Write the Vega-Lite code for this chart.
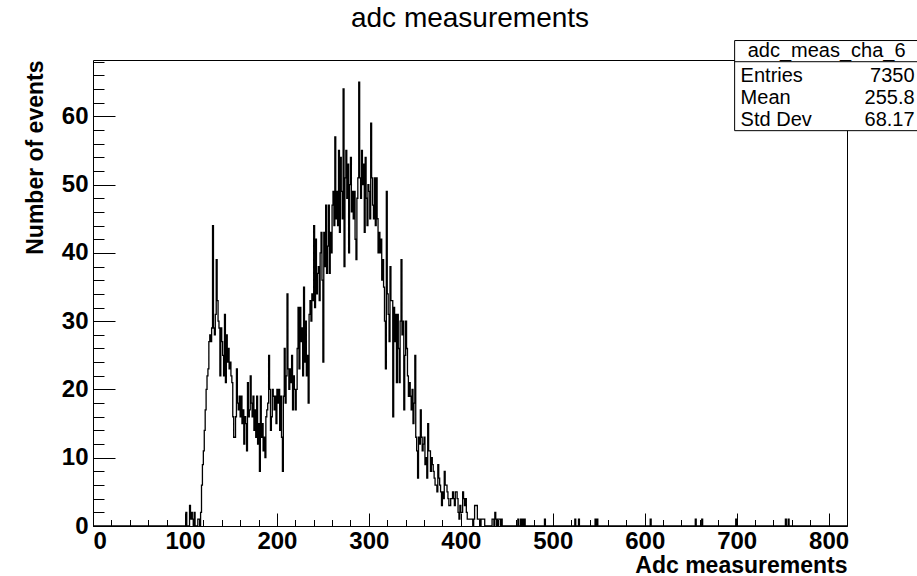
{
  "$schema": "https://vega.github.io/schema/vega-lite/v6.json",
  "width": 754,
  "height": 466,
  "autosize": {"type": "none"},
  "padding": {"left": 93, "top": 60, "right": 70, "bottom": 50},
  "background": "white",
  "view": {"stroke": "black", "strokeWidth": 1, "fill": "white"},
  "title": {"text": "adc measurements", "font": "Liberation Sans", "fontSize": 28, "fontWeight": "normal", "color": "black", "anchor": "middle", "baseline": "bottom", "offset": 5, "dy": 26},
  "config": {"axis": {"grid": false, "labelFont": "Liberation Sans", "titleFont": "Liberation Sans", "labelColor": "black", "titleColor": "black", "tickColor": "black", "domain": false}},
  "datasets": {
    "hist": [
      {"x":0,"n":0},{"x":101,"n":2},{"x":102,"n":0},{"x":105,"n":3},{"x":106,"n":1},{"x":107,"n":2},{"x":108,"n":1},{"x":109,"n":0},{"x":110,"n":2},{"x":111,"n":0},{"x":114,"n":1},{"x":115,"n":1},{"x":116,"n":0},{"x":117,"n":2},
      {"x":118,"n":6},{"x":119,"n":9},{"x":120,"n":11},{"x":121,"n":14},{"x":122,"n":17},{"x":123,"n":20},{"x":124,"n":22},{"x":125,"n":23},{"x":126,"n":27},{"x":127,"n":28},{"x":128,"n":27},{"x":129,"n":29},{"x":130,"n":44},{"x":131,"n":29},{"x":132,"n":28},{"x":133,"n":31},{"x":134,"n":39},{"x":135,"n":33},{"x":136,"n":30},{"x":137,"n":29},{"x":138,"n":22},{"x":139,"n":29},{"x":140,"n":27},{"x":141,"n":25},{"x":142,"n":22},{"x":143,"n":31},{"x":144,"n":21},{"x":145,"n":28},{"x":146,"n":24},{"x":147,"n":26},{"x":148,"n":23},{"x":149,"n":24},
      {"x":150,"n":22},{"x":151,"n":21},{"x":152,"n":16},{"x":153,"n":13},{"x":154,"n":13},{"x":155,"n":16},{"x":156,"n":23},{"x":157,"n":18},{"x":158,"n":17},{"x":159,"n":19},{"x":160,"n":16},{"x":161,"n":19},{"x":162,"n":15},{"x":163,"n":17},{"x":164,"n":12},{"x":165,"n":16},{"x":166,"n":15},{"x":167,"n":11},{"x":168,"n":21},{"x":169,"n":16},{"x":170,"n":17},{"x":171,"n":22},{"x":172,"n":18},{"x":173,"n":16},{"x":174,"n":19},{"x":175,"n":14},{"x":176,"n":17},{"x":177,"n":13},{"x":178,"n":19},{"x":179,"n":12},{"x":180,"n":15},{"x":181,"n":8},{"x":182,"n":19},{"x":183,"n":13},{"x":184,"n":15},{"x":185,"n":11},{"x":186,"n":13},{"x":187,"n":10},{"x":188,"n":16},{"x":189,"n":17},{"x":190,"n":18},{"x":191,"n":25},{"x":192,"n":20},{"x":193,"n":14},{"x":194,"n":16},{"x":195,"n":20},{"x":196,"n":19},{"x":197,"n":17},{"x":198,"n":19},{"x":199,"n":15},
      {"x":200,"n":20},{"x":201,"n":18},{"x":202,"n":20},{"x":203,"n":14},{"x":204,"n":19},{"x":205,"n":13},{"x":206,"n":8},{"x":207,"n":19},{"x":208,"n":26},{"x":209,"n":18},{"x":210,"n":22},{"x":211,"n":34},{"x":212,"n":23},{"x":213,"n":20},{"x":214,"n":23},{"x":215,"n":21},{"x":216,"n":25},{"x":217,"n":17},{"x":218,"n":22},{"x":219,"n":20},{"x":220,"n":17},{"x":221,"n":20},{"x":222,"n":26},{"x":223,"n":32},{"x":224,"n":23},{"x":225,"n":32},{"x":226,"n":27},{"x":227,"n":29},{"x":228,"n":22},{"x":229,"n":35},{"x":230,"n":24},{"x":231,"n":30},{"x":232,"n":22},{"x":233,"n":25},{"x":234,"n":18},{"x":235,"n":31},{"x":236,"n":33},{"x":237,"n":30},{"x":238,"n":34},{"x":239,"n":33},{"x":240,"n":44},{"x":241,"n":32},{"x":242,"n":42},{"x":243,"n":34},{"x":244,"n":37},{"x":245,"n":38},{"x":246,"n":33},{"x":247,"n":40},{"x":248,"n":43},{"x":249,"n":36},
      {"x":250,"n":24},{"x":251,"n":43},{"x":252,"n":38},{"x":253,"n":47},{"x":254,"n":37},{"x":255,"n":41},{"x":256,"n":47},{"x":257,"n":37},{"x":258,"n":43},{"x":259,"n":40},{"x":260,"n":47},{"x":261,"n":49},{"x":262,"n":44},{"x":263,"n":57},{"x":264,"n":45},{"x":265,"n":49},{"x":266,"n":44},{"x":267,"n":55},{"x":268,"n":43},{"x":269,"n":54},{"x":270,"n":49},{"x":271,"n":45},{"x":272,"n":64},{"x":273,"n":38},{"x":274,"n":51},{"x":275,"n":55},{"x":276,"n":48},{"x":277,"n":53},{"x":278,"n":40},{"x":279,"n":50},{"x":280,"n":54},{"x":281,"n":46},{"x":282,"n":49},{"x":283,"n":45},{"x":284,"n":49},{"x":285,"n":42},{"x":286,"n":39},{"x":287,"n":48},{"x":288,"n":51},{"x":289,"n":65},{"x":290,"n":51},{"x":291,"n":48},{"x":292,"n":55},{"x":293,"n":50},{"x":294,"n":53},{"x":295,"n":43},{"x":296,"n":54},{"x":297,"n":48},{"x":298,"n":44},{"x":299,"n":50},
      {"x":300,"n":49},{"x":301,"n":45},{"x":302,"n":59},{"x":303,"n":51},{"x":304,"n":47},{"x":305,"n":45},{"x":306,"n":51},{"x":307,"n":44},{"x":308,"n":51},{"x":309,"n":45},{"x":310,"n":40},{"x":311,"n":43},{"x":312,"n":40},{"x":313,"n":42},{"x":314,"n":36},{"x":315,"n":39},{"x":316,"n":35},{"x":317,"n":30},{"x":318,"n":23},{"x":319,"n":49},{"x":320,"n":34},{"x":321,"n":31},{"x":322,"n":27},{"x":323,"n":38},{"x":324,"n":33},{"x":325,"n":33},{"x":326,"n":16},{"x":327,"n":32},{"x":328,"n":27},{"x":329,"n":31},{"x":330,"n":21},{"x":331,"n":31},{"x":332,"n":26},{"x":333,"n":21},{"x":334,"n":30},{"x":335,"n":39},{"x":336,"n":28},{"x":337,"n":30},{"x":338,"n":17},{"x":339,"n":25},{"x":340,"n":30},{"x":341,"n":26},{"x":342,"n":22},{"x":343,"n":19},{"x":344,"n":21},{"x":345,"n":19},{"x":346,"n":17},{"x":347,"n":20},{"x":348,"n":15},{"x":349,"n":18},
      {"x":350,"n":25},{"x":351,"n":13},{"x":352,"n":11},{"x":353,"n":7},{"x":354,"n":13},{"x":355,"n":12},{"x":356,"n":17},{"x":357,"n":13},{"x":358,"n":11},{"x":359,"n":12},{"x":360,"n":13},{"x":361,"n":9},{"x":362,"n":10},{"x":363,"n":7},{"x":364,"n":15},{"x":365,"n":11},{"x":366,"n":11},{"x":367,"n":8},{"x":368,"n":10},{"x":369,"n":9},{"x":370,"n":8},{"x":371,"n":7},{"x":372,"n":6},{"x":373,"n":6},{"x":374,"n":5},{"x":375,"n":9},{"x":376,"n":7},{"x":377,"n":6},{"x":378,"n":5},{"x":379,"n":3},{"x":380,"n":5},{"x":381,"n":4},{"x":382,"n":8},{"x":383,"n":6},{"x":384,"n":6},{"x":385,"n":5},{"x":386,"n":4},{"x":387,"n":3},{"x":388,"n":3},{"x":389,"n":4},{"x":390,"n":4},{"x":391,"n":5},{"x":392,"n":4},{"x":393,"n":3},{"x":394,"n":5},{"x":395,"n":5},{"x":396,"n":4},{"x":397,"n":2},{"x":398,"n":1},{"x":399,"n":3},
      {"x":400,"n":2},{"x":401,"n":2},{"x":402,"n":5},{"x":403,"n":4},{"x":404,"n":3},{"x":405,"n":4},{"x":406,"n":2},{"x":407,"n":1},{"x":408,"n":1},{"x":409,"n":1},{"x":410,"n":1},{"x":411,"n":1},{"x":412,"n":1},{"x":413,"n":0},{"x":414,"n":1},{"x":415,"n":3},{"x":416,"n":3},{"x":417,"n":3},{"x":418,"n":1},{"x":419,"n":1},{"x":420,"n":1},{"x":421,"n":0},{"x":422,"n":1},{"x":423,"n":1},{"x":424,"n":1},{"x":425,"n":1},{"x":426,"n":0},{"x":434,"n":1},{"x":435,"n":1},{"x":436,"n":0},{"x":437,"n":2},{"x":438,"n":1},{"x":439,"n":0},{"x":440,"n":1},{"x":441,"n":1},{"x":442,"n":1},{"x":443,"n":0},{"x":444,"n":1},{"x":445,"n":0},
      {"x":462,"n":1},{"x":463,"n":0},{"x":465,"n":1},{"x":466,"n":0},{"x":467,"n":1},{"x":468,"n":0},{"x":469,"n":1},{"x":470,"n":0},{"x":491,"n":1},{"x":492,"n":0},{"x":524,"n":1},{"x":525,"n":0},{"x":528,"n":1},{"x":529,"n":0},{"x":546,"n":1},{"x":547,"n":0},{"x":548,"n":1},{"x":549,"n":0},{"x":606,"n":1},{"x":607,"n":0},{"x":655,"n":1},{"x":656,"n":0},{"x":662,"n":1},{"x":663,"n":0},{"x":699,"n":1},{"x":700,"n":0},{"x":753,"n":1},{"x":754,"n":0},{"x":756,"n":1},{"x":757,"n":0},{"x":820,"n":0}
    ],
    "stats": [
      {"i": 1, "k": "Entries", "v": "7350"},
      {"i": 2, "k": "Mean", "v": "255.8"},
      {"i": 3, "k": "Std Dev", "v": "68.17"}
    ]
  },
  "layer": [
    {
      "data": {"name": "hist"},
      "mark": {"type": "line", "interpolate": "step-after", "color": "black", "strokeWidth": 1.3},
      "encoding": {
        "x": {"field": "x", "type": "quantitative", "scale": {"domain": [0, 820], "nice": false, "zero": false},
          "axis": {"orient": "bottom", "values": [0,100,200,300,400,500,600,700,800], "format": "d", "tickSize": -13, "labelFontSize": 24, "labelFontWeight": "bold", "labelPadding": 16, "title": "Adc measurements", "titleFontSize": 23, "titleFontWeight": "bold", "titleAnchor": "end", "titleAlign": "right", "titlePadding": 1}},
        "y": {"field": "n", "type": "quantitative", "scale": {"domain": [0, 68.25], "nice": false, "zero": false},
          "axis": {"orient": "left", "values": [0,10,20,30,40,50,60], "format": "d", "tickSize": -22, "labelFontSize": 24, "labelFontWeight": "bold", "labelPadding": 27, "title": "Number of events", "titleFontSize": 23, "titleFontWeight": "bold", "titleAnchor": "end", "titlePadding": 14}}
      }
    },
    {
      "data": {"name": "hist"},
      "mark": {"type": "point", "opacity": 0},
      "encoding": {
        "x": {"field": "x", "type": "quantitative",
          "axis": {"orient": "bottom", "values": [20,40,60,80,120,140,160,180,220,240,260,280,320,340,360,380,420,440,460,480,520,540,560,580,620,640,660,680,720,740,760,780,820], "tickSize": -6.5, "labels": false, "title": null}},
        "y": {"field": "n", "type": "quantitative",
          "axis": {"orient": "left", "values": [2,4,6,8,12,14,16,18,22,24,26,28,32,34,36,38,42,44,46,48,52,54,56,58,62,64,66,68], "tickSize": -11, "labels": false, "title": null}}
      }
    },
    {
      "data": {"values": [{}]},
      "mark": {"type": "rect", "fill": "white", "stroke": "black", "strokeWidth": 1},
      "encoding": {
        "x": {"datum": 697.8, "type": "quantitative", "axis": null},
        "x2": {"datum": 905},
        "y": {"datum": 71.1, "type": "quantitative", "axis": null},
        "y2": {"datum": 57.9}
      }
    },
    {
      "data": {"values": [{}]},
      "mark": {"type": "rule", "color": "black", "strokeWidth": 1},
      "encoding": {
        "x": {"datum": 697.8, "type": "quantitative", "axis": null},
        "x2": {"datum": 905},
        "y": {"datum": 68.0, "type": "quantitative", "axis": null}
      }
    },
    {
      "data": {"values": [{"t": "adc_meas_cha_6"}]},
      "mark": {"type": "text", "font": "Liberation Sans", "fontSize": 20, "color": "black", "align": "center", "baseline": "middle"},
      "encoding": {
        "x": {"datum": 797.8, "type": "quantitative", "axis": null},
        "y": {"datum": 69.5, "type": "quantitative", "axis": null},
        "text": {"field": "t"}
      }
    },
    {
      "data": {"name": "stats"},
      "transform": [{"calculate": "69.2 - 3.25 * datum.i", "as": "sy"}],
      "mark": {"type": "text", "font": "Liberation Sans", "fontSize": 20, "color": "black", "align": "left", "baseline": "middle"},
      "encoding": {
        "x": {"datum": 704.3, "type": "quantitative", "axis": null},
        "y": {"field": "sy", "type": "quantitative", "axis": null},
        "text": {"field": "k"}
      }
    },
    {
      "data": {"name": "stats"},
      "transform": [{"calculate": "69.2 - 3.25 * datum.i", "as": "sy"}],
      "mark": {"type": "text", "font": "Liberation Sans", "fontSize": 20, "color": "black", "align": "right", "baseline": "middle"},
      "encoding": {
        "x": {"datum": 893.5, "type": "quantitative", "axis": null},
        "y": {"field": "sy", "type": "quantitative", "axis": null},
        "text": {"field": "v"}
      }
    }
  ],
  "resolve": {"axis": {"x": "independent", "y": "independent"}}
}
